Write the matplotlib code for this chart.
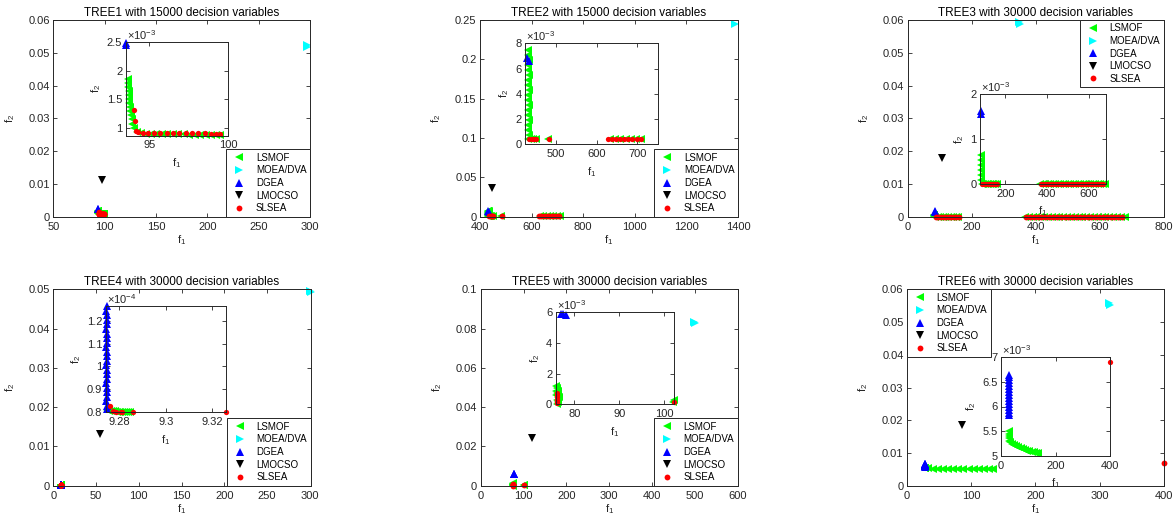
import numpy as np
import matplotlib
matplotlib.use('Agg')
import matplotlib.pyplot as plt
from matplotlib.lines import Line2D
from matplotlib.ticker import FuncFormatter

plt.rcParams['font.family'] = ['Liberation Sans', 'DejaVu Sans']
plt.rcParams['mathtext.fontset'] = 'custom'
plt.rcParams['mathtext.rm'] = 'Liberation Sans'
plt.rcParams['mathtext.it'] = 'Liberation Sans:italic'
plt.rcParams['mathtext.bf'] = 'Liberation Sans:bold'
plt.rcParams['mathtext.default'] = 'regular'

TXT = '#262626'

algorithms = ['LSMOF', 'MOEA/DVA', 'DGEA', 'LMOCSO', 'SLSEA']
markers = ['<', '>', '^', 'v', 'o']
colors = ['#00ff00', '#00ffff', '#0000ff', '#000000', '#ff0000']

# ---- TREE1 (15000 vars) ----
tree1_lsmof_f1 = [93.62, 93.64, 93.66, 93.68, 93.70, 93.72, 93.74, 93.77, 93.80, 93.83,
                  93.87, 93.92, 94.0, 94.2, 94.5, 94.8, 95.1, 95.4, 95.8, 96.1,
                  96.5, 96.8, 97.2, 97.5, 97.9, 98.2, 98.6, 98.9, 99.2, 99.5]
tree1_lsmof_f2 = np.array([1.86, 1.79, 1.72, 1.65, 1.58, 1.51, 1.44, 1.37, 1.30, 1.23,
                           1.15, 1.07, 0.99, 0.93, 0.905, 0.898, 0.895, 0.892, 0.890, 0.888,
                           0.886, 0.885, 0.884, 0.883, 0.882, 0.881, 0.880, 0.879, 0.878, 0.877]) * 1e-3
tree1_moea_f1 = [296.6, 297.1]
tree1_moea_f2 = [0.0523, 0.0517]
tree1_dgea_f1 = [93.5, 93.55]
tree1_dgea_f2 = np.array([2.49, 2.45]) * 1e-3
tree1_lmocso_f1 = [97.1]
tree1_lmocso_f2 = [0.0112]
tree1_slsea_f1 = [94.05, 94.07, 94.15, 94.3, 94.6, 94.9, 95.3, 95.7, 96.1, 96.5,
                  96.9, 97.3, 97.7, 98.1, 98.5, 98.9, 99.2, 99.5]
tree1_slsea_f2 = np.array([1.31, 1.12, 0.94, 0.922, 0.916, 0.913, 0.911, 0.909, 0.907, 0.906,
                           0.905, 0.904, 0.903, 0.902, 0.901, 0.900, 0.899, 0.898]) * 1e-3

# ---- TREE2 (15000 vars) ----
tree2_lsmof_f1 = [432, 431, 433, 432, 431, 433, 432, 431, 433, 432,
                  431, 433, 432, 431, 433, 432, 431, 433, 432, 438,
                  444, 450, 481, 632, 645, 658, 671, 684, 697, 710]
tree2_lsmof_f2 = np.array([7.5, 7.1, 6.7, 6.3, 5.9, 5.5, 5.1, 4.7, 4.3, 3.9,
                           3.5, 3.1, 2.7, 2.3, 1.9, 1.5, 1.1, 0.75, 0.45, 0.42,
                           0.42, 0.42, 0.42, 0.42, 0.42, 0.42, 0.42, 0.42, 0.42, 0.42]) * 1e-3
tree2_moea_f1 = [1390]
tree2_moea_f2 = [0.2445]
tree2_dgea_f1 = [430, 433]
tree2_dgea_f2 = np.array([6.8, 6.6]) * 1e-3
tree2_lmocso_f1 = [448]
tree2_lmocso_f2 = [0.0364]
tree2_slsea_f1 = [435, 442, 446, 451, 484, 628, 638, 648, 658, 668, 678, 688, 698, 708]
tree2_slsea_f2 = np.array([0.45, 0.45, 0.45, 0.45, 0.45, 0.45, 0.45,
                           0.45, 0.45, 0.45, 0.45, 0.45, 0.45, 0.45]) * 1e-3

# ---- TREE3 (30000 vars) ----
tree3_lsmof_f1 = [82, 82, 83, 82, 83, 82, 86, 94, 102, 110, 118, 126, 134, 142, 150, 158,
                  366, 378, 390, 402, 414, 426, 438, 450, 462, 474, 486, 498, 510, 522,
                  534, 546, 558, 570, 582, 594, 606, 618, 630, 642, 654, 666, 678]
tree3_lsmof_f2 = np.array([0.64, 0.53, 0.42, 0.31, 0.20, 0.09, 0.01, 0.01, 0.01, 0.01,
                           0.01, 0.01, 0.01, 0.01, 0.01, 0.01, 0.01, 0.01, 0.01, 0.01,
                           0.01, 0.01, 0.01, 0.01, 0.01, 0.01, 0.01, 0.01, 0.01, 0.01,
                           0.01, 0.01, 0.01, 0.01, 0.01, 0.01, 0.01, 0.01, 0.01, 0.01,
                           0.01, 0.01, 0.01]) * 1e-3
tree3_moea_f1 = [348, 350]
tree3_moea_f2 = [0.0594, 0.0589]
tree3_dgea_f1 = [84, 85]
tree3_dgea_f2 = np.array([1.62, 1.55]) * 1e-3
tree3_lmocso_f1 = [106]
tree3_lmocso_f2 = [0.0178]
tree3_slsea_f1 = [88, 96, 104, 112, 120, 128, 136, 144, 152, 160,
                  370, 382, 394, 406, 418, 430, 442, 454, 466, 478, 490, 502, 514,
                  526, 538, 550, 562, 574, 586, 598, 610, 622, 634, 646, 658, 670]
tree3_slsea_f2 = np.array([0.01, 0.01, 0.01, 0.01, 0.01, 0.01, 0.01, 0.01, 0.01, 0.01,
                           0.01, 0.01, 0.01, 0.01, 0.01, 0.01, 0.01, 0.01, 0.01, 0.01,
                           0.01, 0.01, 0.01, 0.01, 0.01, 0.01, 0.01, 0.01, 0.01, 0.01,
                           0.01, 0.01, 0.01, 0.01, 0.01, 0.01]) * 1e-3

# ---- TREE4 (30000 vars) ----
tree4_lsmof_f1 = [9.2750, 9.2758, 9.2766, 9.2774, 9.2782, 9.2790, 9.2798,
                  9.2806, 9.2814, 9.2822, 9.2830, 9.2838, 9.2846]
tree4_lsmof_f2 = np.array([0.806, 0.804, 0.803, 0.802, 0.801, 0.800, 0.800,
                           0.799, 0.799, 0.798, 0.798, 0.798, 0.798]) * 1e-4
tree4_moea_f1 = [300.6, 301.0]
tree4_moea_f2 = [0.0496, 0.0494]
tree4_dgea_f1 = [9.2747, 9.2746, 9.2747, 9.2748, 9.2747, 9.2746, 9.2747, 9.2748,
                 9.2747, 9.2746, 9.2747, 9.2748, 9.2747, 9.2746, 9.2747, 9.2748,
                 9.2747, 9.2746, 9.2747, 9.2748, 9.2747, 9.2746, 9.2747, 9.2748]
tree4_dgea_f2 = np.array([1.265, 1.245, 1.225, 1.205, 1.185, 1.165, 1.145, 1.125,
                          1.105, 1.085, 1.065, 1.045, 1.025, 1.005, 0.985, 0.965,
                          0.945, 0.925, 0.905, 0.885, 0.865, 0.845, 0.825, 0.810]) * 1e-4
tree4_lmocso_f1 = [54.6]
tree4_lmocso_f2 = [0.0132]
tree4_slsea_f1 = [9.2762, 9.2773, 9.2787, 9.2807, 9.2814, 9.2862, 9.3257]
tree4_slsea_f2 = np.array([0.825, 0.801, 0.800, 0.799, 0.799, 0.798, 0.798]) * 1e-4

# ---- TREE5 (30000 vars) ----
tree5_lsmof_f1 = [76.0, 76.1, 75.95, 76.2, 76.0, 76.3, 76.1, 76.4, 76.2, 76.5, 76.4, 76.3, 102.0, 102.2]
tree5_lsmof_f2 = np.array([1.20, 1.05, 0.90, 0.75, 0.60, 0.45, 0.30, 0.15, 0.03, 0.50,
                           0.90, 0.20, 0.12, 0.25]) * 1e-3
tree5_moea_f1 = [497, 501]
tree5_moea_f2 = [0.0832, 0.0828]
tree5_dgea_f1 = [76.95, 77.55, 78.15]
tree5_dgea_f2 = np.array([5.92, 5.86, 5.80]) * 1e-3
tree5_lmocso_f1 = [120.6]
tree5_lmocso_f2 = [0.0241]
tree5_slsea_f1 = [76.1, 76.1, 76.12, 76.15, 76.15, 76.2, 102.2]
tree5_slsea_f2 = np.array([0.75, 0.60, 0.45, 0.30, 0.17, 0.06, 0.15]) * 1e-3

# ---- TREE6 (30000 vars) ----
tree6_lsmof_f1 = [28, 28, 28, 28, 28, 32, 40, 48, 56, 64, 72, 80, 88, 96, 104, 112, 120, 128, 134]
tree6_lsmof_f2 = np.array([5.50, 5.45, 5.40, 5.35, 5.30, 5.27, 5.24, 5.21, 5.19, 5.17,
                           5.15, 5.13, 5.11, 5.10, 5.09, 5.08, 5.07, 5.06, 5.055]) * 1e-3
tree6_moea_f1 = [315, 316]
tree6_moea_f2 = [0.0557, 0.0552]
tree6_dgea_f1 = [28, 28, 28, 28, 28, 28, 28, 28, 28, 28, 28, 28, 28, 28, 28]
tree6_dgea_f2 = np.array([6.65, 6.59, 6.53, 6.47, 6.41, 6.35, 6.29, 6.23, 6.17, 6.11,
                          6.05, 5.99, 5.93, 5.87, 5.82]) * 1e-3
tree6_lmocso_f1 = [85.7]
tree6_lmocso_f2 = [0.0186]
tree6_slsea_f1 = [400]
tree6_slsea_f2 = [0.0069]

panels = [
    dict(title='TREE1 with 15000 decision variables',
         data=[(tree1_lsmof_f1, tree1_lsmof_f2), (tree1_moea_f1, tree1_moea_f2),
               (tree1_dgea_f1, tree1_dgea_f2), (tree1_lmocso_f1, tree1_lmocso_f2),
               (tree1_slsea_f1, tree1_slsea_f2)],
         box=(53.3, 20, 310, 216.7), xlim=(50, 300), ylim=(0, 0.06),
         xticks=[50, 100, 150, 200, 250, 300], yticks=[0, 0.01, 0.02, 0.03, 0.04, 0.05, 0.06],
         ibox=(125.7, 42, 228.3, 135.5), ixlim=(93.5, 100), iylim=(0.866e-3, 2.5e-3),
         ixticks=[95, 100], iyticks=[1e-3, 1.5e-3, 2e-3, 2.5e-3], iexp=-3, leg='lower right'),
    dict(title='TREE2 with 15000 decision variables',
         data=[(tree2_lsmof_f1, tree2_lsmof_f2), (tree2_moea_f1, tree2_moea_f2),
               (tree2_dgea_f1, tree2_dgea_f2), (tree2_lmocso_f1, tree2_lmocso_f2),
               (tree2_slsea_f1, tree2_slsea_f2)],
         box=(480, 20, 738, 216.7), xlim=(400, 1400), ylim=(0, 0.25),
         xticks=[400, 600, 800, 1000, 1200, 1400], yticks=[0, 0.05, 0.1, 0.15, 0.2, 0.25],
         ibox=(525, 43.3, 657.7, 144.3), ixlim=(424, 750), iylim=(0, 8e-3),
         ixticks=[500, 600, 700], iyticks=[0, 2e-3, 4e-3, 6e-3, 8e-3], iexp=-3, leg='lower right'),
    dict(title='TREE3 with 30000 decision variables',
         data=[(tree3_lsmof_f1, tree3_lsmof_f2), (tree3_moea_f1, tree3_moea_f2),
               (tree3_dgea_f1, tree3_dgea_f2), (tree3_lmocso_f1, tree3_lmocso_f2),
               (tree3_slsea_f1, tree3_slsea_f2)],
         box=(907.7, 20, 1163.7, 216.7), xlim=(0, 800), ylim=(0, 0.06),
         xticks=[0, 200, 400, 600, 800], yticks=[0, 0.01, 0.02, 0.03, 0.04, 0.05, 0.06],
         ibox=(980, 94.3, 1106, 184), ixlim=(78, 682), iylim=(0, 2e-3),
         ixticks=[200, 400, 600], iyticks=[0, 1e-3, 2e-3], iexp=-3, leg='upper right'),
    dict(title='TREE4 with 30000 decision variables',
         data=[(tree4_lsmof_f1, tree4_lsmof_f2), (tree4_moea_f1, tree4_moea_f2),
               (tree4_dgea_f1, tree4_dgea_f2), (tree4_lmocso_f1, tree4_lmocso_f2),
               (tree4_slsea_f1, tree4_slsea_f2)],
         box=(53.3, 289.3, 310.7, 485.7), xlim=(0, 301), ylim=(0, 0.05),
         xticks=[0, 50, 100, 150, 200, 250, 300], yticks=[0, 0.01, 0.02, 0.03, 0.04, 0.05],
         ibox=(105.7, 305.7, 225.7, 412.3), ixlim=(9.2743, 9.3257), iylim=(0.797e-4, 1.268e-4),
         ixticks=[9.28, 9.30, 9.32], iyticks=[0.8e-4, 0.9e-4, 1.0e-4, 1.1e-4, 1.2e-4], iexp=-4,
         leg='lower right'),
    dict(title='TREE5 with 30000 decision variables',
         data=[(tree5_lsmof_f1, tree5_lsmof_f2), (tree5_moea_f1, tree5_moea_f2),
               (tree5_dgea_f1, tree5_dgea_f2), (tree5_lmocso_f1, tree5_lmocso_f2),
               (tree5_slsea_f1, tree5_slsea_f2)],
         box=(480.7, 289.3, 737.7, 485.7), xlim=(0, 600), ylim=(0, 0.1),
         xticks=[0, 100, 200, 300, 400, 500, 600], yticks=[0, 0.02, 0.04, 0.06, 0.08, 0.1],
         ibox=(555.7, 312.3, 674.3, 404.3), ixlim=(75.85, 102.2), iylim=(0, 6e-3),
         ixticks=[80, 90, 100], iyticks=[0, 2e-3, 4e-3, 6e-3], iexp=-3, leg='lower right'),
    dict(title='TREE6 with 30000 decision variables',
         data=[(tree6_lsmof_f1, tree6_lsmof_f2), (tree6_moea_f1, tree6_moea_f2),
               (tree6_dgea_f1, tree6_dgea_f2), (tree6_lmocso_f1, tree6_lmocso_f2),
               (tree6_slsea_f1, tree6_slsea_f2)],
         box=(907, 289.3, 1163.7, 485.7), xlim=(0, 400), ylim=(0, 0.06),
         xticks=[0, 100, 200, 300, 400], yticks=[0, 0.01, 0.02, 0.03, 0.04, 0.05, 0.06],
         ibox=(1001, 357.3, 1110, 455.7), ixlim=(0, 400), iylim=(5e-3, 7e-3),
         ixticks=[0, 200, 400], iyticks=[5e-3, 5.5e-3, 6e-3, 6.5e-3, 7e-3], iexp=-3,
         leg='upper left'),
]

W, H = 1176, 527


def rect(b):
    l, t, r, btm = b
    return [l / W, 1 - btm / H, (r - l) / W, (btm - t) / H]


def draw(ax, data, xlim, ylim, ms, ms_dot):
    ex = 0.004 * (xlim[1] - xlim[0])
    ey = 0.004 * (ylim[1] - ylim[0])
    for (f1, f2), mk, c in zip(data, markers, colors):
        f1 = np.asarray(f1, float)
        f2 = np.asarray(f2, float)
        keep = (f1 >= xlim[0] - ex) & (f1 <= xlim[1] + ex) & (f2 >= ylim[0] - ey) & (f2 <= ylim[1] + ey)
        ax.plot(f1[keep], f2[keep], ls='none', marker=mk, ms=ms_dot if mk == 'o' else ms,
                mfc=c, mec=c, mew=0, clip_on=False)


def style(ax, xlim, ylim, xticks, yticks, yscale=1.0):
    ax.set_xlim(xlim)
    ax.set_ylim(ylim)
    ax.set_xticks(xticks)
    ax.set_yticks(yticks)
    ax.xaxis.set_major_formatter(FuncFormatter(lambda v, p: f'{v:g}'))
    ax.yaxis.set_major_formatter(FuncFormatter(lambda v, p: f'{v / yscale:g}'))
    ax.tick_params(direction='in', top=True, right=True, length=3, width=0.6,
                   colors=TXT, labelsize=8)
    ax.tick_params(axis='x', pad=3.5)
    ax.tick_params(axis='y', pad=2.5)
    for s in ax.spines.values():
        s.set_linewidth(0.7)
        s.set_color(TXT)


fig = plt.figure(figsize=(11.76, 5.27), dpi=100)

for p in panels:
    ax = fig.add_axes(rect(p['box']))
    draw(ax, p['data'], p['xlim'], p['ylim'], 6, 4.2)
    style(ax, p['xlim'], p['ylim'], p['xticks'], p['yticks'])
    ax.set_title(p['title'], fontsize=8.5, pad=3, color='#000000')
    ax.set_xlabel('f$_1$', fontsize=8, labelpad=1, color=TXT)
    ax.set_ylabel('f$_2$', fontsize=8, labelpad=8.5, color=TXT)

    handles = [Line2D([], [], ls='none', marker=mk, ms=4.2 if mk == 'o' else 6,
                      mfc=c, mec=c, mew=0) for mk, c in zip(markers, colors)]
    leg = ax.legend(handles, algorithms, loc=p['leg'], fontsize=7, frameon=True,
                    fancybox=False, framealpha=1, edgecolor=TXT, borderaxespad=0,
                    borderpad=0.35, labelspacing=0.27, handlelength=2.0,
                    handletextpad=0.7, numpoints=1)
    leg.get_frame().set_linewidth(0.7)

    iax = fig.add_axes(rect(p['ibox']))
    scale = 10.0 ** p['iexp']
    draw(iax, p['data'], p['ixlim'], p['iylim'], 5.2, 3.8)
    style(iax, p['ixlim'], p['iylim'], p['ixticks'], p['iyticks'], yscale=scale)
    iax.set_xlabel('f$_1$', fontsize=8, labelpad=4, color=TXT)
    iax.set_ylabel('f$_2$', fontsize=8, labelpad=3, color=TXT)
    iax.text(0.01, 1.0, '\u00d710$^{%d}$' % p['iexp'], transform=iax.transAxes,
             ha='left', va='bottom', fontsize=8, color=TXT)

fig.savefig('out.png', dpi=100)
